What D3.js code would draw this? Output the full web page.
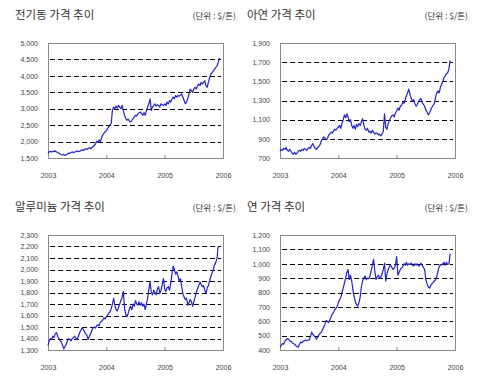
<!DOCTYPE html>
<html>
<head>
<meta charset="utf-8">
<script src="https://cdn.jsdelivr.net/npm/d3@7/dist/d3.min.js"></script>
<style>
  body { margin: 0; background: #fff; }
  text { font-family: "Liberation Sans", Arial, sans-serif; }
  .title, .unit { font-family: "Noto Sans CJK KR", sans-serif; fill: #333; }
</style>
</head>
<body>
<svg id="chart" width="500" height="384"></svg>
<script>
// Weekly-ish LME prices ($/ton), 4 readings per month starting Jan 2003

const startYear = 2003;
const readingsPerYear = 48;
const yearTicks = [2003, 2004, 2005, 2006];
const unitLabel = "(단위 : $/톤)";

const titles = ["전기동 가격 추이", "아연 가격 추이", "알루미늄 가격 추이", "연 가격 추이"];

const copperTicks = [1500, 2000, 2500, 3000, 3500, 4000, 4500, 5000];
const zincTicks = [700, 900, 1100, 1300, 1500, 1700, 1900];
const aluminiumTicks = [1300, 1400, 1500, 1600, 1700, 1800, 1900, 2000, 2100, 2200, 2300];
const leadTicks = [400, 500, 600, 700, 800, 900, 1000, 1100, 1200];

const copperPrices = [
  1650, 1690, 1700, 1680, 1710, 1690, 1720, 1680, 1660, 1650, 1620, 1600,
  1590, 1610, 1580, 1600, 1620, 1650, 1640, 1670, 1690, 1660, 1680, 1700,
  1720, 1690, 1700, 1730, 1750, 1730, 1760, 1780, 1760, 1790, 1810, 1780,
  1820, 1850, 1880, 1920, 2010, 1980, 2050, 2000, 2100, 2200, 2250, 2300,
  2320, 2400, 2450, 2500, 2550, 2950, 3050, 3000, 3080, 3020, 3100, 3050,
  3000, 3100, 2950, 2800, 2700, 2650, 2680, 2620, 2600, 2640, 2700, 2750,
  2800, 2780, 2850, 2880, 2900, 2850, 2800, 2880, 2800, 2950, 3050, 3150,
  3300, 2950, 3050, 3100, 3150, 3080, 3120, 3100, 3050, 3150, 3120, 3100,
  3150, 3100, 3200, 3150, 3250, 3200, 3300, 3350, 3300, 3400, 3350, 3400,
  3380, 3420, 3450, 3350, 3250, 3150, 3200, 3300, 3450, 3600, 3550, 3500,
  3600, 3650, 3600, 3700, 3750, 3700, 3800, 3750, 3800, 3850, 3700, 3650,
  3800, 3950, 4050, 4100, 4150, 4200, 4250, 4300, 4400, 4550
];

const zincPrices = [
  770, 790, 780, 800, 790, 810, 780, 770, 790, 770, 750, 740,
  760, 740, 750, 770, 780, 770, 790, 780, 800, 790, 780, 800,
  810, 800, 830, 850, 820, 800, 790, 810, 820, 840, 880, 900,
  920, 910, 890, 900, 940, 950, 970, 960, 980, 1000, 990, 1010,
  1020, 1040, 1010, 1060, 1100, 1150, 1120, 1160, 1130, 1080, 1100, 1040,
  1010, 1040, 1000, 1050, 1030, 1060, 1040, 1080, 1110, 1040, 1000, 990,
  1010, 970, 980, 960, 990, 970, 950, 960, 960, 940, 950, 930,
  950, 980, 1160, 1020, 1000, 1060, 1090, 1120, 1140, 1150, 1130, 1170,
  1190, 1220, 1200, 1240, 1250, 1280, 1270, 1310, 1350, 1380, 1420, 1360,
  1320, 1290, 1310, 1270, 1240, 1260, 1290, 1310, 1320, 1280, 1260, 1240,
  1200, 1180, 1150, 1170, 1200, 1230, 1250, 1270, 1330, 1380, 1400, 1380,
  1440, 1470, 1500, 1540, 1560, 1580, 1590, 1630, 1720
];

const aluminiumPrices = [
  1340, 1380, 1400, 1390, 1420, 1410, 1440, 1450, 1420, 1400, 1380, 1370,
  1340, 1310, 1330, 1350, 1380, 1400, 1390, 1380, 1400, 1410, 1420, 1400,
  1390, 1420, 1450, 1470, 1490, 1480, 1460, 1440, 1430, 1390, 1420, 1440,
  1470, 1490, 1500, 1490, 1510, 1520, 1510, 1540, 1550, 1560, 1580, 1570,
  1590, 1600, 1620, 1630, 1660, 1700, 1750, 1690, 1650, 1640, 1670, 1700,
  1730, 1760, 1810, 1660, 1610, 1590, 1620, 1660, 1680, 1650, 1700, 1680,
  1730, 1700, 1690, 1720, 1690, 1710, 1680, 1700, 1650, 1700, 1750, 1830,
  1890, 1800, 1780, 1820, 1800, 1780, 1830, 1850, 1790, 1820, 1870, 1920,
  1830, 1810, 1840, 1850, 1820, 1880, 1960, 2030, 2000, 1960, 1980, 1940,
  1900, 1920, 1850, 1790, 1760, 1740, 1750, 1690, 1710, 1740, 1720, 1680,
  1720, 1760, 1800, 1830, 1860, 1890, 1870, 1850, 1860, 1820, 1790, 1840,
  1860, 1900, 1940, 1970, 2000, 2040, 2060, 2090, 2200
];

const leadPrices = [
  420, 430, 445, 440, 460, 470, 480, 475, 465, 460, 450, 445,
  440, 430, 425, 420, 440, 455, 450, 460, 465, 470, 465, 468,
  470, 490, 525, 510, 500, 490, 475, 490, 505, 515, 525, 540,
  560, 580, 605, 600, 590, 610, 630, 650, 660, 680, 690, 700,
  730, 750, 765, 800, 830, 865, 900, 940, 960, 890, 920, 880,
  820, 770, 735, 715, 705, 730, 770, 840, 880, 900, 915, 890,
  900, 895, 915, 950, 990, 1030, 950, 890, 910, 920, 900, 910,
  930, 960, 1005, 880, 930, 960, 980, 990, 975, 960, 970, 990,
  1050, 920, 940, 960, 970, 980, 1000, 990, 1010, 990, 1000, 995,
  1005, 990, 985, 1000, 990, 1000, 985, 990, 1005, 990, 975, 960,
  890, 860, 840, 830, 850, 860, 870, 880, 890, 910, 950, 980,
  995, 990, 1000, 1010, 990, 1010, 995, 1000, 1070
];

// Panel placement (plot box top-left corners)
const boxW = 175, boxH = 115;
const panels = [
  {title: titles[0], values: copperPrices, ticks: copperTicks, left: 48, top: 43},
  {title: titles[1], values: zincPrices, ticks: zincTicks, left: 280, top: 43},
  {title: titles[2], values: aluminiumPrices, ticks: aluminiumTicks, left: 48, top: 235},
  {title: titles[3], values: leadPrices, ticks: leadTicks, left: 280, top: 235},
];

const svg = d3.select("#chart");
svg.append("rect").attr("width", 500).attr("height", 384).attr("fill", "#fff");

panels.forEach(drawPanel);


// Draw one small price chart
function drawPanel(p) {
  let g = svg.append("g").attr("transform", `translate(${p.left},${p.top})`);

  let x = d3.scaleLinear()
    .domain([yearTicks[0], yearTicks[yearTicks.length - 1]])
    .range([0, boxW]);
  let y = d3.scaleLinear()
    .domain(d3.extent(p.ticks))
    .range([boxH, 0]);

  // Title and unit
  g.append("text")
    .attr("class", "title")
    .attr("x", -33)
    .attr("y", -24)
    .attr("font-size", 11.5)
    .text(p.title);
  g.append("text")
    .attr("class", "unit")
    .attr("x", 188)
    .attr("y", -24)
    .attr("text-anchor", "end")
    .attr("font-size", 8.5)
    .text(unitLabel);

  // Dashed grid on inner ticks
  g.append("g")
    .selectAll("line")
    .data(p.ticks.slice(1, -1))
    .join("line")
      .attr("x1", 2)
      .attr("x2", boxW - 2)
      .attr("y1", d => Math.round(y(d)) + 0.5)
      .attr("y2", d => Math.round(y(d)) + 0.5)
      .attr("stroke", "#000")
      .attr("stroke-dasharray", "5,3");

  // Frame
  g.append("rect")
    .attr("x", 0.5)
    .attr("y", 0.5)
    .attr("width", boxW)
    .attr("height", boxH)
    .attr("fill", "none")
    .attr("stroke", "#8a8a8a");

  // Y labels
  let yAxis = d3.axisLeft(y)
    .tickValues(p.ticks)
    .tickFormat(d3.format(",d"))
    .tickSize(0)
    .tickPadding(10);
  g.append("g")
    .call(yAxis)
    .call(a => a.select(".domain").remove())
    .selectAll("text")
      .attr("font-size", 7)
      .attr("fill", "#444")
      .style("font-family", "'Liberation Sans', Arial, sans-serif");

  // X labels with short inner ticks
  let xAxis = d3.axisBottom(x)
    .tickValues(yearTicks)
    .tickFormat(d3.format("d"))
    .tickSizeInner(-3)
    .tickSizeOuter(0)
    .tickPadding(15);
  g.append("g")
    .attr("transform", `translate(0,${boxH})`)
    .call(xAxis)
    .call(a => a.select(".domain").remove())
    .call(a => a.selectAll(".tick line").attr("stroke", "#8a8a8a")
      .attr("display", d => (d === yearTicks[0] || d === yearTicks[yearTicks.length - 1]) ? "none" : null))
    .selectAll("text")
      .attr("font-size", 7)
      .attr("fill", "#444")
      .style("font-family", "'Liberation Sans', Arial, sans-serif");

  // Price line
  let line = d3.line()
    .x((d, i) => x(startYear + i / readingsPerYear))
    .y(d => y(d));
  g.append("path")
    .datum(p.values)
    .attr("d", line)
    .attr("fill", "none")
    .attr("stroke", "#2222cc")
    .attr("stroke-width", 1.2)
    .attr("stroke-linejoin", "round");
}
</script>
</body>
</html>
